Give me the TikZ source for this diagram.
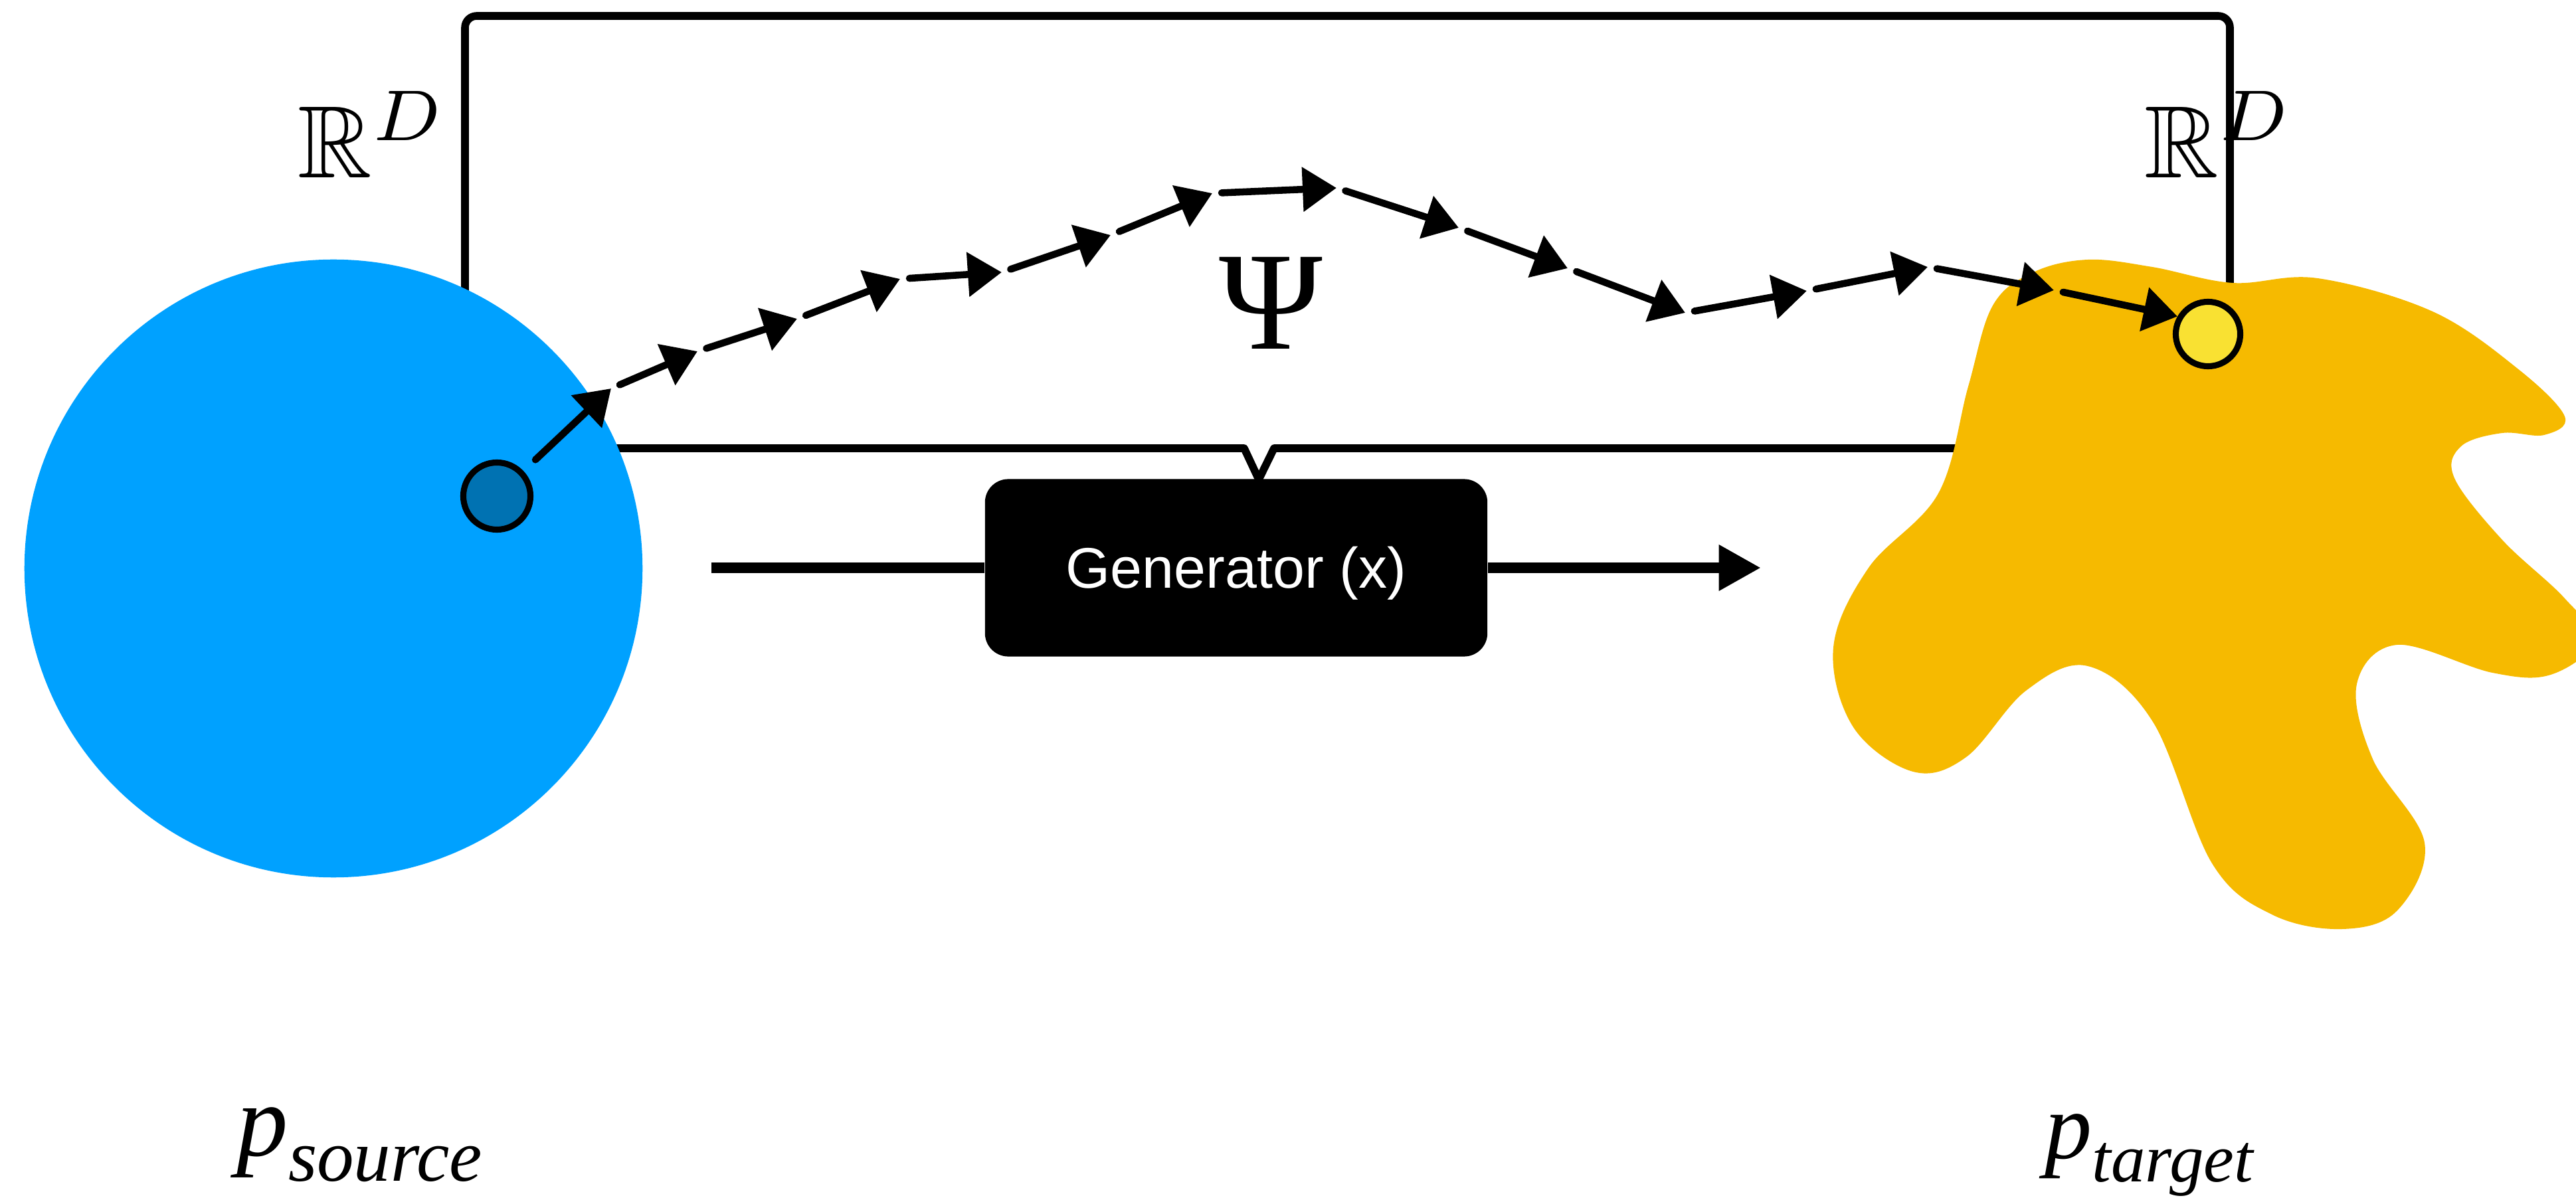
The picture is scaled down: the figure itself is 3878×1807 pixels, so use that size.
\documentclass[tikz,border=0pt]{standalone}
\usepackage{fontspec}
\usepackage{amssymb}
\usepackage{graphicx}
\usetikzlibrary{arrows.meta}
\newfontfamily\labelsans{Liberation Sans}
\newfontfamily\labelserif{Liberation Serif}
\definecolor{srcblue}{RGB}{0,161,255}
\definecolor{srcdot}{RGB}{0,114,178}
\definecolor{tgtgold}{RGB}{246,186,0}
\definecolor{tgtdot}{RGB}{249,225,50}

\begin{document}
\begin{tikzpicture}[x=0.01cm, y=-0.01cm,
  sketch/.style={line width=3.3pt, line join=round, line cap=round},
  hop/.style={line width=3pt, line cap=round, -{Triangle[length=14.5pt,width=18.5pt]}, shorten <=4pt},
  flow/.style={line width=4.5pt},
  sample/.style={circle, draw=black, line width=2.6pt, inner sep=0pt},
  genbox/.style={fill=black, rounded corners=10pt, minimum width=7.56cm, minimum height=2.67cm,
    inner sep=0pt, text=white, font=\labelsans\fontsize{24.5}{29}\selectfont,
    text height=17.5pt, text depth=0pt},
  lbl/.style={inner sep=0pt}
]
\useasboundingbox (0,0) rectangle (3878,1807);
\clip (0,0) rectangle (3878,1807);

% callout frame of the space R^D, pointing at the generator
\draw[sketch]
  (700,675) [rounded corners=5pt] -- (700,24) -- (3357,24) -- (3357,675)
  [sharp corners] -- (1918,675) -- (1895,722) -- (1873,675) -- cycle;

% source distribution
\fill[srcblue] (502,856) circle[radius=4.65cm];

% target distribution
\fill[tgtgold] plot[smooth cycle, tension=0.6] coordinates {
  (3143,391) (3240,402) (3361,426) (3489,419)
  (3662,469) (3790,555) (3861,627) (3830,655) (3767,652)
  (3705,672) (3695,720) (3767,813) (3860,900)
  (3905,965) (3840,1016) (3752,1013) (3609,971)
  (3548,1030) (3572,1143) (3650,1269)
  (3609,1371) (3526,1399) (3420,1377) (3330,1300)
  (3241,1087) (3143,1003) (3050,1040)
  (2960,1140) (2880,1162) (2790,1095) (2760,975)
  (2813,855) (2918,743) (2963,582)
  (3000,460) (3061,410)};

% samples
\node[sample, fill=srcdot, minimum size=1.01cm] (src) at (748,747) {};
\node[sample, fill=tgtdot, minimum size=0.97cm] (tgt) at (3324,503) {};

% path of the transport map
\coordinate (c1) at (920,585);
\coordinate (c2) at (1050,529);
\coordinate (c3) at (1200,480);
\coordinate (c4) at (1355,420);
\coordinate (c5) at (1508,410);
\coordinate (c6) at (1672,354);
\coordinate (c7) at (1825,291);
\coordinate (c8) at (2012,283);
\coordinate (c9) at (2196,343);
\coordinate (c10) at (2360,404);
\coordinate (c11) at (2537,471);
\coordinate (c12) at (2720,438);
\coordinate (c13) at (2902,402);
\coordinate (c14) at (3092,437);

\draw[hop, shorten <=7pt] (src) -- (c1);
\foreach \a/\b in {c1/c2, c2/c3, c3/c4, c4/c5, c5/c6, c6/c7, c7/c8,
                   c8/c9, c9/c10, c10/c11, c11/c12, c12/c13, c13/c14}
  \draw[hop] (\a) -- (\b);
\draw[hop] (c14) -- (tgt.150);

% generator block
\node[genbox] (gen) at (1861,855) {Generator (x)};
\coordinate (gin) at (1071,855);
\coordinate (gout) at (2651,855);
\draw[flow] (gin) -- (gen.west);
\draw[flow, -{Triangle[length=18pt,width=18.5pt]}] (gen.east) -- (gout);

% labels
\node[lbl, anchor=base west] (rdl) at (448,268) {\scalebox{4.4}{$\mathbb{R}^D$}};
\node[lbl, anchor=base west] (rdr) at (3228,268) {\scalebox{4.4}{$\mathbb{R}^D$}};
\node[lbl] (psi) at (1913,456) {\labelserif\fontsize{60}{64}\selectfont Ψ};
\node[lbl, anchor=base west] (psrc) at (356,1740)
  {\labelserif\itshape\fontsize{44}{48}\selectfont p\raisebox{-11pt}[\height][0pt]{\fontsize{31.6}{34}\selectfont source}};
\node[lbl, anchor=base west] (ptgt) at (3078,1744)
  {\labelserif\itshape\fontsize{40.4}{44}\selectfont p\raisebox{-10.2pt}{\fontsize{29.3}{32}\selectfont target}};
\end{tikzpicture}
\end{document}
